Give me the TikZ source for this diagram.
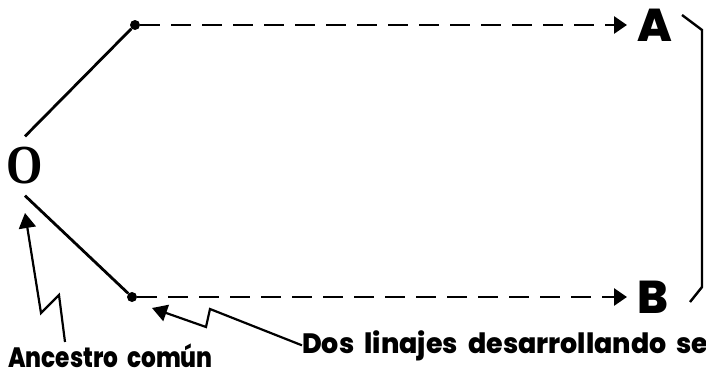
\documentclass[tikz,border=0pt]{standalone}
\usepackage{fontspec}
\usetikzlibrary{arrows.meta,calc}
\newfontfamily\geofont{Poppins}[BoldFont=* ExtraBold,WordSpace=2]
\newfontfamily\ofont{Liberation Serif}
\tikzset{
  branch/.style={line width=2.8pt},
  lineage/.style={line width=2.8pt,dash pattern=on 20pt off 11pt,
    -{Triangle[length=13pt,width=17pt]}},
  pointer/.style={line width=2.2pt,-{Triangle[length=15pt,width=17pt]}},
  bracket/.style={line width=2.4pt},
  branchdot/.style={circle,fill,inner sep=0pt,minimum size=10pt},
  taxon/.style={font=\geofont\bfseries\fontsize{46}{46}\selectfont,
    inner sep=0pt,outer xsep=10pt},
  caption/.style={font=\geofont\bfseries\fontsize{28}{30}\selectfont,
    inner sep=0pt},
}

\begin{document}
\begin{tikzpicture}[x=1pt,y=-1pt]
  \useasboundingbox (0,0) rectangle (706,372);

  % Common ancestor
  \node[font=\ofont\bfseries\fontsize{55}{55}\selectfont,inner sep=11pt] (O) at (25,166) {\scalebox{0.85}[1]{O}};

  % Branch points
  \node[branchdot] (topdot) at (135,25) {};
  \node[branchdot] (botdot) at (132,297) {};

  % Descendants
  \node[taxon,anchor=west] (A) at (627,25) {A};
  \node[taxon,anchor=west] (B) at (627,297) {B};

  % Branches
  \draw[branch] (O.north) -- (topdot);
  \draw[branch] (O.south) -- (botdot);
  \draw[lineage] (topdot) -- (A);
  \draw[lineage] (botdot) -- (B);

  % Bracket
  \draw[bracket] (682,15) -- (702,30) -- (702,287) -- (690,302);

  % Labels
  \node[caption,anchor=base west] (ancestro) at (8,367) {\scalebox{0.83}[1]{Ancestro común}};
  \node[caption,anchor=base west] (linajes) at (302,353) {\scalebox{0.96}[1]{Dos linajes desarrollando se}};

  % Pointers
  \coordinate (tipO) at (25,213);
  \coordinate (tipB) at (152,308);
  \draw[pointer] ($(ancestro.base west)+(57,-25)$) -- (59,295) -- (41,313) -- (tipO);
  \draw[pointer] (linajes.west) -- (210,309) -- (206,327) -- (tipB);
\end{tikzpicture}
\end{document}
